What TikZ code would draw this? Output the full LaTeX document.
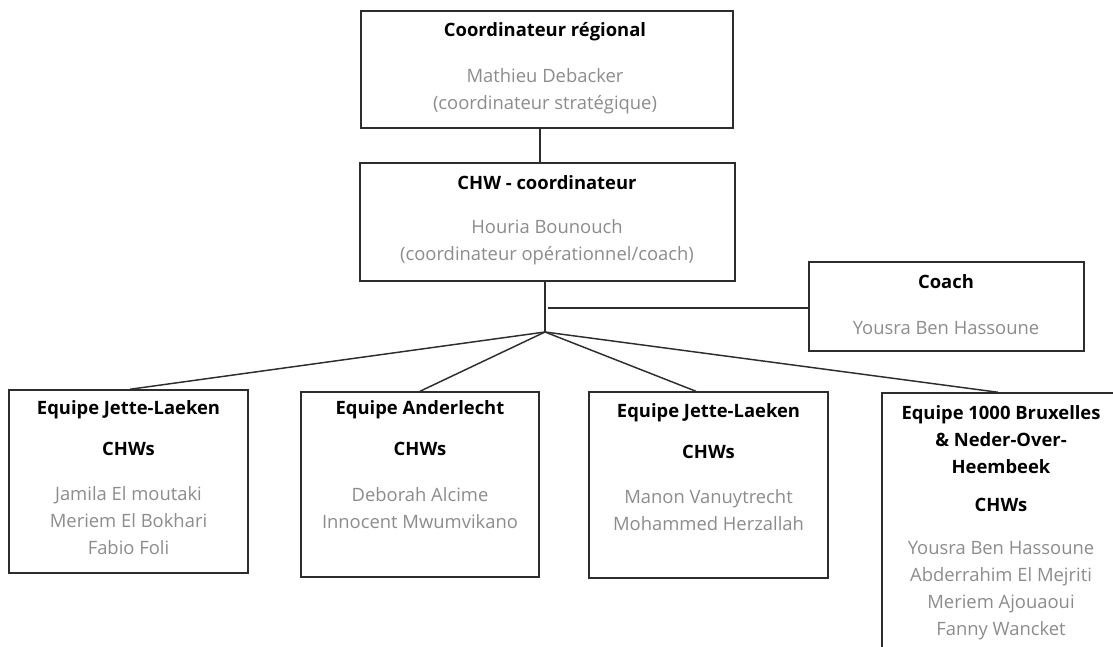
\documentclass[tikz,border=0pt]{standalone}
\usepackage{fontspec}
\setmainfont{Open Sans}
\usetikzlibrary{fit}
\definecolor{namegray}{RGB}{140,140,140}
\definecolor{linegray}{RGB}{45,45,45}
\begin{document}
\begin{tikzpicture}[x=0.75pt,y=-0.75pt,
  box/.style={draw=linegray, line width=1.1pt, rectangle, inner sep=0pt},
  link/.style={draw=linegray, line width=1.1pt},
  title/.style={font=\fontsize{13.8}{20.25}\selectfont\bfseries, text=black, inner sep=0pt, align=center},
  person/.style={font=\fontsize{13.8}{20.25}\selectfont, text=namegray, inner sep=0pt, align=center},
]
\clip (0,0) rectangle (1113,646);

% boxes
\node[box, fit={(361,11) (733,128)}] (top) {};
\node[box, fit={(360,163) (735,281)}] (chw) {};
\node[box, fit={(809,262) (1084,351)}] (coach) {};
\node[box, fit={(9,390) (248,573)}] (b1) {};
\node[box, fit={(301,392) (539,577)}] (b2) {};
\node[box, fit={(589,392) (828,578)}] (b3) {};
\node[box, fit={(882,393) (1120,680)}] (b4) {};

% texts
\node[title] (topT) at (545,32) {Coordinateur régional};
\node[person] (topN) at (545,91.5) {Mathieu Debacker\\(coordinateur stratégique)};
\node[title] (chwT) at (547,183) {CHW - coordinateur};
\node[person] (chwN) at (547,242.5) {Houria Bounouch\\(coordinateur opérationnel/coach)};
\node[title] (coachT) at (946,282) {Coach};
\node[person] (coachN) at (946,328) {Yousra Ben Hassoune};

\node[title] (b1T) at (128.5,410) {Equipe Jette-Laeken};
\node[title] (b1C) at (128.5,449) {CHWs};
\node[person] (b1N) at (128.5,521) {Jamila El moutaki\\Meriem El Bokhari\\Fabio Foli};

\node[title] (b2T) at (420,410) {Equipe Anderlecht};
\node[title] (b2C) at (420,449) {CHWs};
\node[person] (b2N) at (420,508.5) {Deborah Alcime\\Innocent Mwumvikano};

\node[title] (b3T) at (708.5,413) {Equipe Jette-Laeken};
\node[title] (b3C) at (708.5,452) {CHWs};
\node[person] (b3N) at (708.5,510.5) {Manon Vanuytrecht\\Mohammed Herzallah};

\node[title] (b4T) at (1001,440) {Equipe 1000 Bruxelles\\\& Neder-Over-\\Heembeek};
\node[title] (b4C) at (1001,505) {CHWs};
\node[person] (b4N) at (1001,591) {Yousra Ben Hassoune\\Abderrahim El Mejriti\\Meriem Ajouaoui\\Fanny Wancket};

% connectors
\coordinate (hub) at (545,332);
\coordinate (tap) at (548,308);
\coordinate (stem) at (540,0);
\draw[link] (top.south -| stem) -- (chw.north -| stem);
\draw[link] (chw.south -| hub) -- (hub);
\draw[link] (tap) -- (tap -| coach.west);
\draw[link] (hub) -- ([xshift=1.1pt]b1.north);
\draw[link] (hub) -- (b2.north);
\draw[link] (hub) -- ([xshift=-9.4pt]b3.north);
\draw[link] (hub) -- ([xshift=-2.2pt]b4.north);
\end{tikzpicture}
\end{document}
